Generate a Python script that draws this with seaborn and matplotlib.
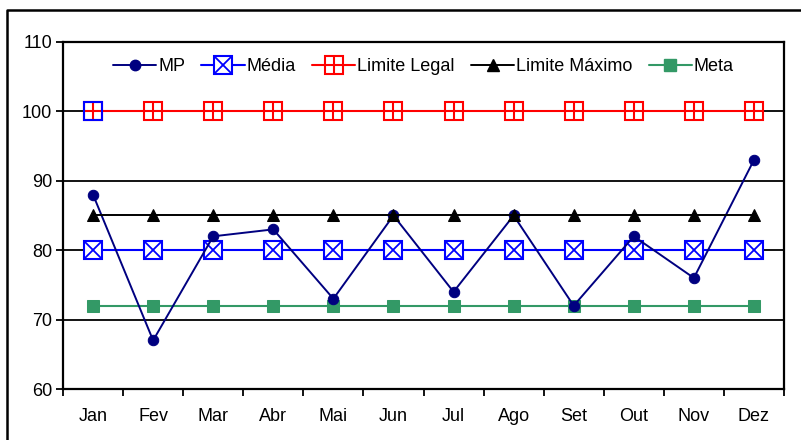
import pandas as pd
import numpy as np
import matplotlib
matplotlib.use("Agg")
import matplotlib.pyplot as plt
import seaborn as sns
from matplotlib.lines import Line2D
from matplotlib.legend_handler import HandlerTuple

# Data
meses = ['Jan', 'Fev', 'Mar', 'Abr', 'Mai', 'Jun', 'Jul', 'Ago', 'Set', 'Out', 'Nov', 'Dez']
mp = [88, 67, 82, 83, 73, 85, 74, 85, 72, 82, 76, 93]
media = [80] * 12
limite_legal = [100] * 12
limite_maximo = [85] * 12
meta = [72] * 12

df = pd.DataFrame({
    'pos': range(len(meses)),
    'mes': meses,
    'MP': mp,
    'Média': media,
    'Limite Legal': limite_legal,
    'Limite Máximo': limite_maximo,
    'Meta': meta,
})

sns.set_style("white")
plt.rcParams['font.family'] = ['Liberation Sans', 'DejaVu Sans']
plt.rcParams['font.size'] = 13
plt.rcParams['text.color'] = 'black'
plt.rcParams['xtick.color'] = 'black'
plt.rcParams['ytick.color'] = 'black'

navy = '#000080'
blue = '#0000FF'
red = '#FF0000'
green = '#339966'

fig = plt.figure(figsize=(8.01, 4.40), dpi=100)
ax = fig.add_axes([63 / 801, 1 - 389 / 440, 721 / 801, 347 / 440])

# gridlines
for v in [70, 80, 90, 100]:
    ax.axhline(v, color='black', lw=1.3, zorder=1)

# Limite Legal: open square with plus
sns.lineplot(data=df, x='pos', y='Limite Legal', ax=ax, color=red, lw=1.5,
             marker='s', markersize=13, markerfacecolor='white', markeredgecolor=red,
             markeredgewidth=1.5, zorder=3)
ax.plot(df['pos'], df['Limite Legal'], color=red, linestyle='None',
        marker='+', markersize=12, markeredgewidth=1.5, zorder=3.1)
# first point drawn with blue frame, as in the original
ax.plot(df['pos'][:1], df['Limite Legal'][:1], linestyle='None', marker='s', markersize=13,
        markerfacecolor='none', markeredgecolor=blue, markeredgewidth=1.5, zorder=3.2)

# Média: open square with X
sns.lineplot(data=df, x='pos', y='Média', ax=ax, color=blue, lw=1.5,
             marker='s', markersize=13, markerfacecolor='white', markeredgecolor=blue,
             markeredgewidth=1.5, zorder=4)
ax.plot(df['pos'], df['Média'], color=blue, linestyle='None',
        marker='x', markersize=13, markeredgewidth=1.3, zorder=4.1)

# Meta
sns.lineplot(data=df, x='pos', y='Meta', ax=ax, color=green, lw=1.5,
             marker='s', markersize=8, markeredgecolor=green, zorder=3)

# MP
sns.lineplot(data=df, x='pos', y='MP', ax=ax, color=navy, lw=1.4,
             marker='o', markersize=7.5, markeredgecolor=navy, zorder=5)

# Limite Máximo
sns.lineplot(data=df, x='pos', y='Limite Máximo', ax=ax, color='black', lw=1.4,
             marker='^', markersize=8.5, markeredgecolor='black', zorder=6)

ax.set_xlim(-0.5, len(meses) - 0.5)
ax.set_ylim(60, 110)
ax.set_yticks([60, 70, 80, 90, 100, 110])
ax.set_xticks(np.arange(-0.5, len(meses), 1.0))
ax.set_xticklabels([])
ax.set_xticks(df['pos'], minor=True)
ax.set_xticklabels(meses, minor=True)
ax.tick_params(axis='x', which='major', bottom=True, direction='out', length=5, width=1.3)
ax.tick_params(axis='x', which='minor', bottom=True, length=0, pad=14)
ax.tick_params(axis='y', left=True, direction='out', length=5, width=1.3, pad=3)
ax.set_xlabel('')
ax.set_ylabel('')
for s in ax.spines.values():
    s.set_color('black')
    s.set_linewidth(1.6)

# legend
h_mp = Line2D([], [], color=navy, lw=1.4, marker='o', markersize=7.5)
h_media = (Line2D([], [], color=blue, lw=1.5, marker='s', markersize=13, markerfacecolor='white',
                  markeredgewidth=1.5),
           Line2D([], [], color=blue, linestyle='None', marker='x', markersize=13, markeredgewidth=1.3))
h_legal = (Line2D([], [], color=red, lw=1.5, marker='s', markersize=13, markerfacecolor='white',
                  markeredgewidth=1.5),
           Line2D([], [], color=red, linestyle='None', marker='+', markersize=12, markeredgewidth=1.5))
h_max = Line2D([], [], color='black', lw=1.4, marker='^', markersize=8.5)
h_meta = Line2D([], [], color=green, lw=1.5, marker='s', markersize=8)
ax.legend([h_mp, h_media, h_legal, h_max, h_meta],
          ['MP', 'Média', 'Limite Legal', 'Limite Máximo', 'Meta'],
          handler_map={tuple: HandlerTuple(ndivide=1, pad=0)},
          loc='center', bbox_to_anchor=(0.5, 0.928), ncol=5, frameon=False,
          handlelength=2.4, handletextpad=0.1, columnspacing=0.9, fontsize=13)

# outer chart frame: only top and left edges fall inside the image
fig.add_artist(Line2D([7 / 801, 7 / 801, 1.0], [0.0, 1 - 10 / 440, 1 - 10 / 440],
                      transform=fig.transFigure, color='black', lw=1.8))

fig.savefig('out.png', dpi=100)
